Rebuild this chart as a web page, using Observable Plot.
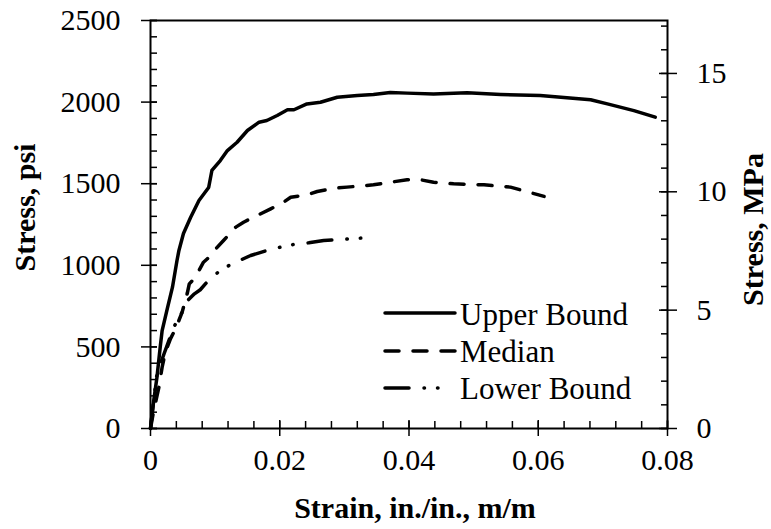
<!DOCTYPE html>
<html>
<head>
<meta charset="utf-8">
<script src="https://cdn.jsdelivr.net/npm/d3@7"></script>
<script src="https://cdn.jsdelivr.net/npm/@observablehq/plot@0.6"></script>
<style>
  html, body { margin: 0; padding: 0; background: #fff; }
  #chart { width: 771px; height: 529px; }
</style>
</head>
<body>
<div id="chart"></div>
<script>
// ---- Data (strain in in./in., stress in psi) ----
const upperStrain = [0, 0.0005, 0.001, 0.0015, 0.0018, 0.0026, 0.0034, 0.0041, 0.0044, 0.0051, 0.0062, 0.0075, 0.009, 0.0095, 0.0108, 0.0119, 0.0134, 0.015, 0.0168, 0.018, 0.0196, 0.0212, 0.0222, 0.0242, 0.0263, 0.0289, 0.032, 0.0345, 0.0371, 0.0397, 0.0438, 0.049, 0.0542, 0.0603, 0.0681, 0.0707, 0.0748, 0.0781];
const upperStress = [0, 172, 314, 498, 600, 735, 866, 1029, 1091, 1195, 1293, 1397, 1477, 1581, 1642, 1703, 1754, 1826, 1877, 1887, 1918, 1953, 1953, 1989, 1999, 2030, 2040, 2046, 2059, 2055, 2050, 2057, 2047, 2040, 2014, 1989, 1948, 1908];

const medianStrain = [0, 0.0005, 0.0013, 0.0018, 0.0023, 0.0031, 0.0039, 0.0049, 0.0057, 0.006, 0.0067, 0.0075, 0.0082, 0.0088, 0.0101, 0.0113, 0.0132, 0.0144, 0.0168, 0.0186, 0.0206, 0.0217, 0.0242, 0.0258, 0.0286, 0.0304, 0.0345, 0.0371, 0.0397, 0.0418, 0.0438, 0.0469, 0.0516, 0.0557, 0.0609];
const medianStress = [0, 110, 253, 376, 468, 551, 612, 713, 830, 886, 915, 968, 1019, 1040, 1101, 1152, 1234, 1264, 1311, 1346, 1387, 1417, 1432, 1452, 1473, 1479, 1493, 1509, 1524, 1524, 1509, 1499, 1493, 1479, 1422];

const lowerStrain = [0, 0.0003, 0.001, 0.0021, 0.0036, 0.0049, 0.0059, 0.0068, 0.0077, 0.0087, 0.0095, 0.0111, 0.0132, 0.0155, 0.018, 0.0201, 0.0219, 0.0245, 0.0268, 0.0294, 0.032, 0.0338];
const lowerStress = [0, 110, 335, 458, 621, 713, 790, 825, 850, 895, 927, 978, 1019, 1060, 1091, 1111, 1126, 1138, 1152, 1158, 1166, 1168];

const seriesNames = ["Upper Bound", "Median", "Lower Bound"];

// ---- Ticks ----
const PSI_PER_MPA = 145.0377;
const xMajorTicks = [0, 0.02, 0.04, 0.06, 0.08];
const xTickLabels = ["0", "0.02", "0.04", "0.06", "0.08"];
const xMinorTicks = d3.range(0, 0.0801, 0.004);
const yMajorTicks = [0, 500, 1000, 1500, 2000, 2500];
const yMinorTicks = d3.range(0, 2501, 100);
const mpaMajorTicks = [0, 5, 10, 15];
const mpaMinorTicks = d3.range(0, 17.01, 1);

const toRows = (xs, ys, name) => xs.map((x, i) => ({strain: x, stress: ys[i], series: name}));
const upper = toRows(upperStrain, upperStress, seriesNames[0]);
const median = toRows(medianStrain, medianStress, seriesNames[1]);
const lower = toRows(lowerStrain, lowerStress, seriesNames[2]);

const dashes = {
  "Upper Bound": null,
  "Median": "14,14",
  "Lower Bound": "24,15,0.5,13,0.5,15"
};

const FONT = "Liberation Serif, Times New Roman, serif";
const noText = () => "";

const chart = Plot.plot({
  width: 771,
  height: 529,
  marginLeft: 150,
  marginRight: 104,
  marginTop: 20,
  marginBottom: 101,
  style: {fontFamily: FONT, fontSize: "30px", background: "#fff", color: "#000"},
  x: {domain: [0, 0.08]},
  y: {domain: [0, 2500]},
  marks: [
    // left axis ticks
    Plot.axisY(yMinorTicks, {anchor: "left", tickSize: 7, insetLeft: 7, strokeWidth: 1.5, tickFormat: noText, label: null}),
    Plot.axisY(yMajorTicks, {anchor: "left", tickSize: 16, insetLeft: 7, strokeWidth: 1.5, tickFormat: noText, label: null}),
    Plot.axisY(yMajorTicks, {anchor: "left", tickSize: 0, tickPadding: 30, fontSize: 30, label: null, tickFormat: d => String(d)}),
    // right axis (MPa)
    Plot.axisY(mpaMinorTicks.map(m => m * PSI_PER_MPA), {anchor: "right", tickSize: 7, insetRight: 7, strokeWidth: 1.5, tickFormat: noText, label: null}),
    Plot.axisY(mpaMajorTicks.map(m => m * PSI_PER_MPA), {anchor: "right", tickSize: 18, insetRight: 9, strokeWidth: 1.5, tickFormat: noText, label: null}),
    Plot.axisY(mpaMajorTicks.map(m => m * PSI_PER_MPA), {anchor: "right", tickSize: 0, tickPadding: 29, fontSize: 30, label: null, tickFormat: d => String(Math.round(d / PSI_PER_MPA))}),
    // bottom axis
    Plot.axisX(xMinorTicks, {anchor: "bottom", tickSize: 7, insetBottom: 7, strokeWidth: 1.5, tickFormat: noText, label: null}),
    Plot.axisX(xMajorTicks, {anchor: "bottom", tickSize: 16, insetBottom: 8, strokeWidth: 1.5, tickFormat: noText, label: null}),
    Plot.axisX(xMajorTicks, {anchor: "bottom", tickSize: 0, tickPadding: 20, fontSize: 30, label: null, tickFormat: d => xTickLabels[xMajorTicks.indexOf(d)]}),
    Plot.frame({stroke: "#000", strokeWidth: 2}),
    // curves
    Plot.line(upper, {x: "strain", y: "stress", stroke: "#000", strokeWidth: 3.5, strokeLinecap: "round", strokeLinejoin: "round"}),
    Plot.line(median, {x: "strain", y: "stress", stroke: "#000", strokeWidth: 3.5, strokeLinecap: "round", strokeLinejoin: "round", strokeDasharray: dashes["Median"]}),
    Plot.line(lower, {x: "strain", y: "stress", stroke: "#000", strokeWidth: 3.5, strokeLinecap: "round", strokeLinejoin: "round", strokeDasharray: dashes["Lower Bound"]}),
    // axis titles
    Plot.text(["Stress, psi"], {frameAnchor: "left", textAnchor: "middle", lineAnchor: "middle", rotate: -90, dx: -125, dy: -17, fontWeight: "bold", fontSize: 30, fontFamily: FONT}),
    Plot.text(["Stress, MPa"], {frameAnchor: "right", textAnchor: "middle", lineAnchor: "middle", rotate: -90, dx: 86, dy: 5, fontWeight: "bold", fontSize: 30, fontFamily: FONT}),
    Plot.text(["Strain, in./in., m/m"], {frameAnchor: "bottom", textAnchor: "middle", lineAnchor: "middle", dx: 6, dy: 80, fontWeight: "bold", fontSize: 30, fontFamily: FONT})
  ]
});

// ---- Legend (inside plot area, lower right) ----
const svg = d3.select(chart);
const legend = svg.append("g").attr("class", "legend").attr("text-anchor", "start");
const rows = [
  {name: seriesNames[0], y: 313, ty: 325, x2: 455},
  {name: seriesNames[1], y: 351, ty: 362, x2: 455},
  {name: seriesNames[2], y: 388, ty: 399, x2: 438}
];
rows.forEach(r => {
  legend.append("line")
    .attr("x1", 385).attr("x2", r.x2)
    .attr("y1", r.y).attr("y2", r.y)
    .attr("stroke", "#000").attr("stroke-width", 3.5)
    .attr("stroke-linecap", "round")
    .attr("stroke-dasharray", dashes[r.name]);
  legend.append("text")
    .attr("x", 460).attr("y", r.ty)
    .attr("text-anchor", "start")
    .attr("font-family", FONT).attr("font-size", 31)
    .attr("fill", "#000")
    .text(r.name);
});

document.getElementById("chart").appendChild(chart);
</script>
</body>
</html>
